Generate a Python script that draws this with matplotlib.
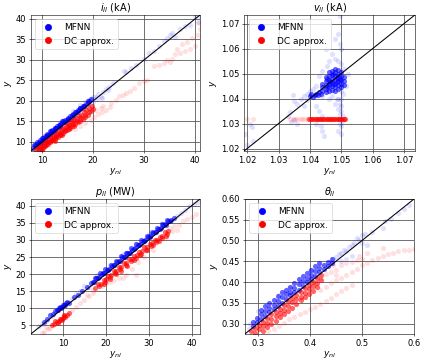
import matplotlib
matplotlib.use("Agg")
import matplotlib.pyplot as plt
from matplotlib.lines import Line2D
from matplotlib.ticker import FormatStrFormatter

# ---------------- i_ll (kA) ----------------
i_mfnn_core_x = [8.2, 8.5, 8.8, 9.0, 9.2, 9.5, 9.8, 10.0, 10.2, 10.5, 10.8, 11.0, 11.3, 11.5, 11.8, 12.0,
                 12.3, 12.5, 12.8, 13.0, 13.3, 13.5, 13.8, 14.0, 14.3, 14.5, 14.8, 15.0, 15.3, 15.5, 15.8,
                 16.0, 16.3, 16.5, 16.8, 17.0, 17.3, 17.5, 17.8, 18.0, 18.3, 18.6, 19.0, 19.3, 9.5, 10.5,
                 11.5, 12.5, 13.5, 14.5, 9.0, 10.0, 11.0, 12.0,
                 8.6, 9.4, 10.2, 11.0, 11.8, 12.6, 13.4, 14.2, 15.0, 15.8, 16.6, 17.4, 18.2, 19.0, 19.6]
i_mfnn_core_y = [8.6, 9.3, 9.0, 9.9, 9.6, 10.4, 10.1, 11.0, 10.6, 11.5, 11.2, 12.0, 11.7, 12.6, 12.2, 13.0,
                 12.7, 13.5, 13.3, 14.0, 13.7, 14.5, 14.3, 15.0, 14.8, 15.4, 15.3, 15.9, 15.7, 16.4, 16.2,
                 16.9, 16.7, 17.3, 17.2, 17.8, 17.7, 18.3, 18.2, 18.8, 18.7, 19.3, 19.5, 19.9, 9.8, 10.8,
                 11.9, 12.9, 13.9, 14.9, 9.4, 10.3, 11.4, 12.4,
                 9.3, 10.1, 11.0, 11.7, 12.6, 13.3, 14.1, 15.0, 15.6, 16.6, 17.2, 18.2, 18.8, 19.9, 20.4]
i_mfnn_x = [19.5, 20.0, 20.3, 20.8, 21.0, 21.5, 22.0, 22.5, 23.0, 23.2, 21.8, 19.0, 18.5, 24.0, 26.0, 26.5,
            27.5, 28.5, 30.0, 31.0, 32.0, 33.0, 34.0, 34.5, 35.0, 35.5, 36.0, 37.0, 38.0, 39.0, 40.0, 40.5,
            41.0, 17.5, 16.0, 20.0]
i_mfnn_y = [20.5, 19.8, 21.0, 20.5, 21.6, 21.0, 22.3, 23.0, 22.6, 23.5, 20.8, 20.3, 19.8, 24.5, 27.4, 27.0,
            28.0, 28.8, 30.3, 31.6, 32.3, 33.3, 34.7, 35.3, 36.0, 36.6, 35.5, 37.5, 38.4, 38.5, 40.6, 39.3,
            40.8, 19.0, 17.5, 20.9]
i_dc_core_x = [8.8, 9.0, 9.3, 9.5, 9.8, 10.0, 10.2, 10.3, 10.5, 10.7, 10.8, 11.0, 11.2, 11.3, 11.5, 11.7,
               11.8, 12.0, 12.2, 12.3, 12.5, 12.7, 12.8, 13.0, 13.2, 13.3, 13.5, 13.7, 13.8, 14.0, 14.2,
               14.3, 14.5, 14.7, 14.8, 15.0, 15.2, 15.3, 15.5, 15.7, 15.8, 16.0, 16.2, 16.3, 16.5, 16.8,
               17.0, 17.2, 17.5, 17.7, 18.0, 18.2, 18.5, 18.7, 19.0, 19.2, 19.5, 19.7, 12.5, 14.0, 11.0, 10.0,
               9.6, 10.4, 11.2, 12.0, 12.8, 13.6, 14.4, 15.2, 16.0, 16.8, 17.6, 18.4, 19.2, 20.0]
i_dc_core_y = [8.0, 8.5, 8.2, 8.9, 8.4, 9.3, 8.6, 9.7, 9.0, 9.9, 9.3, 10.3, 9.5, 10.6, 9.9, 10.9,
               10.2, 11.2, 10.4, 11.5, 10.8, 11.8, 11.1, 12.2, 11.3, 12.5, 11.7, 12.8, 12.0, 13.1, 12.2,
               13.5, 12.6, 13.8, 12.9, 14.1, 13.1, 14.5, 13.5, 14.8, 13.8, 15.1, 14.0, 15.5, 14.4, 15.8,
               14.8, 16.3, 15.2, 16.7, 15.6, 17.2, 16.1, 17.7, 16.6, 18.3, 17.5, 18.8, 10.2, 11.8, 9.7, 8.0,
               8.6, 9.1, 9.9, 10.6, 11.4, 12.0, 12.9, 13.6, 14.3, 15.0, 15.9, 16.5, 17.3, 18.0]
i_dc_x = [16.5, 17.5, 18.5, 19.5, 20.2, 21.0, 21.8, 22.5, 23.3, 22.0, 23.5, 24.5, 25.0, 25.8, 26.5, 27.3,
          28.0, 29.0, 30.0, 20.5, 21.5, 32.0, 33.0, 34.0, 34.5, 35.0, 35.5, 36.0, 37.0, 38.0, 39.0, 40.0,
          36.5, 37.5, 38.5, 39.5, 40.5, 41.0, 40.8, 30.5, 19.0, 18.0]
i_dc_y = [13.2, 14.0, 14.6, 15.3, 16.2, 16.8, 17.4, 17.8, 18.5, 18.8, 19.5, 20.3, 21.2, 21.5, 22.0, 22.5,
          23.2, 24.3, 24.8, 17.8, 18.2, 28.5, 28.8, 29.3, 30.0, 29.5, 30.2, 31.5, 31.8, 32.3, 32.6, 33.4,
          32.8, 34.0, 34.5, 35.3, 36.2, 37.5, 39.0, 25.2, 19.2, 16.5]

# ---------------- v_ll (kA) ----------------
v_mfnn_core_x = [1.0440, 1.0440, 1.0440,
                 1.0450, 1.0450, 1.0450, 1.0450, 1.0450,
                 1.0460, 1.0460, 1.0460, 1.0460, 1.0460, 1.0460,
                 1.0470, 1.0470, 1.0470, 1.0470, 1.0470, 1.0470,
                 1.0480, 1.0480, 1.0480, 1.0480, 1.0480, 1.0480, 1.0480,
                 1.0490, 1.0490, 1.0490, 1.0490, 1.0490, 1.0490,
                 1.0500, 1.0500, 1.0500, 1.0500, 1.0500,
                 1.0510, 1.0510, 1.0510,
                 1.0455, 1.0465, 1.0475, 1.0485, 1.0495, 1.0475, 1.0485, 1.0455,
                 1.0400, 1.0410, 1.0415, 1.0420, 1.0425, 1.0430, 1.0435, 1.0405]
v_mfnn_core_y = [1.0430, 1.0445, 1.0460,
                 1.0425, 1.0440, 1.0455, 1.0470, 1.0485,
                 1.0430, 1.0445, 1.0460, 1.0475, 1.0490, 1.0505,
                 1.0435, 1.0450, 1.0465, 1.0480, 1.0495, 1.0510,
                 1.0430, 1.0445, 1.0460, 1.0475, 1.0490, 1.0505, 1.0520,
                 1.0440, 1.0455, 1.0470, 1.0485, 1.0500, 1.0515,
                 1.0445, 1.0460, 1.0475, 1.0490, 1.0505,
                 1.0455, 1.0470, 1.0485,
                 1.0448, 1.0468, 1.0458, 1.0482, 1.0478, 1.0498, 1.0465, 1.0478,
                 1.0410, 1.0405, 1.0415, 1.0420, 1.0413, 1.0425, 1.0420, 1.0418]
v_mfnn_x = [1.0400, 1.0390, 1.0370, 1.0350, 1.0345, 1.0360, 1.0380, 1.0330, 1.0350, 1.0360, 1.0340,
            1.0420, 1.0430, 1.0440, 1.0435, 1.0440, 1.0445, 1.0420, 1.0480, 1.0490, 1.0495, 1.0490,
            1.0495, 1.0500, 1.0490, 1.0500, 1.0485, 1.0500, 1.0210, 1.0215, 1.0220, 1.0200, 1.0192,
            1.0450, 1.0460, 1.0470, 1.0480, 1.0490, 1.0495, 1.0480, 1.0500, 1.0510, 1.0520, 1.0455,
            1.0430, 1.0440, 1.0420, 1.0410, 1.0500, 1.0515, 1.0390, 1.0460, 1.0470, 1.0440, 1.0380,
            1.0335, 1.0500, 1.0495, 1.0505, 1.0498, 1.0502, 1.0490, 1.0505, 1.0500, 1.0490, 1.0500,
            1.0495]
v_mfnn_y = [1.0430, 1.0395, 1.0400, 1.0390, 1.0415, 1.0380, 1.0410, 1.0330, 1.0315, 1.0300, 1.0305,
            1.0370, 1.0350, 1.0330, 1.0290, 1.0270, 1.0250, 1.0300, 1.0380, 1.0360, 1.0340, 1.0320,
            1.0300, 1.0290, 1.0270, 1.0400, 1.0400, 1.0370, 1.0300, 1.0285, 1.0230, 1.0215, 1.0260,
            1.0600, 1.0550, 1.0580, 1.0640, 1.0660, 1.0730, 1.0560, 1.0540, 1.0520, 1.0500, 1.0530,
            1.0490, 1.0510, 1.0450, 1.0440, 1.0470, 1.0450, 1.0420, 1.0400, 1.0410, 1.0410, 1.0370,
            1.0345, 1.0350, 1.0380, 1.0330, 1.0260, 1.0310, 1.0400, 1.0420, 1.0430, 1.0550, 1.0600,
            1.0620]
v_dc_core_x = [1.0398, 1.0403, 1.0408, 1.0413, 1.0418, 1.0423, 1.0428, 1.0433, 1.0438, 1.0443, 1.0448,
               1.0453, 1.0458, 1.0463, 1.0468, 1.0473, 1.0478, 1.0483, 1.0488, 1.0493, 1.0498, 1.0503,
               1.0508, 1.0513]
v_dc_core_y = [1.0318, 1.0318, 1.0318, 1.0318, 1.0318, 1.0318, 1.0318, 1.0318, 1.0318, 1.0318, 1.0318,
               1.0318, 1.0318, 1.0318, 1.0318, 1.0318, 1.0318, 1.0318, 1.0318, 1.0318, 1.0318, 1.0318,
               1.0318, 1.0318]
v_dc_x = [1.0335, 1.0345, 1.0352, 1.0360, 1.0368, 1.0375, 1.0382, 1.0390, 1.0395, 1.0200, 1.0218]
v_dc_y = [1.0318, 1.0318, 1.0318, 1.0318, 1.0318, 1.0318, 1.0318, 1.0318, 1.0318, 1.0318, 1.0318]

# ---------------- p_ll (MW) ----------------
p_mfnn_core_x = [5.5, 6.3, 7.0, 7.6, 8.2, 8.8, 9.3, 9.8, 10.3, 10.8, 11.3, 9.0, 10.0, 11.0,
                 12.5, 13.5, 14.5, 15.5,
                 16.5, 17.2, 17.8, 18.5, 19.0, 19.6, 20.2, 20.8, 21.4, 22.0, 22.6, 23.2, 23.8, 24.4,
                 25.0, 25.6, 26.2, 26.8, 27.4, 28.0, 28.6, 29.2, 29.8, 30.4, 31.0, 31.6, 32.2, 32.8,
                 33.4, 34.0, 34.6, 35.2, 35.8,
                 17.5, 18.7, 19.9, 21.1, 22.3, 23.5, 24.7, 25.9, 27.1, 28.3, 29.5, 30.7, 31.9, 33.1, 34.3,
                 17.0, 18.2, 19.4, 20.6, 21.8, 23.0, 24.2, 25.4, 26.6, 27.8, 29.0, 30.2, 31.4, 32.6, 33.8,
                 35.0, 8.5, 9.5, 10.5]
p_mfnn_core_y = [6.0, 6.8, 7.9, 8.2, 9.2, 9.5, 10.3, 10.4, 11.0, 11.5, 11.7, 10.0, 10.9, 11.8,
                 13.3, 14.0, 15.2, 16.3,
                 17.4, 17.8, 18.8, 19.2, 20.0, 20.3, 21.2, 21.5, 22.4, 22.7, 23.6, 23.9, 24.9, 25.1,
                 26.1, 26.3, 27.2, 27.5, 28.4, 28.7, 29.6, 29.9, 30.8, 31.1, 32.0, 32.2, 33.1, 33.4,
                 34.3, 34.5, 35.4, 35.8, 36.4,
                 19.0, 20.4, 21.5, 22.8, 23.9, 25.2, 26.3, 27.6, 28.7, 30.0, 31.1, 32.4, 33.5, 34.8, 35.9,
                 17.7, 18.9, 20.2, 21.3, 22.6, 23.7, 25.0, 26.1, 27.4, 28.5, 29.8, 30.9, 32.2, 33.3, 34.6,
                 35.6, 9.6, 10.1, 11.1]
p_mfnn_x = [4.5, 5.0, 6.0, 7.5, 12.0, 13.0, 14.0, 15.0, 16.0, 18.0, 21.0, 24.0, 27.0, 30.0, 33.0, 36.5,
            37.5, 38.5, 39.5, 40.5, 41.5, 20.0, 25.0, 29.0]
p_mfnn_y = [4.8, 5.5, 6.2, 7.8, 12.8, 14.2, 15.0, 16.5, 16.3, 19.8, 22.8, 25.8, 28.9, 31.8, 34.8, 37.0,
            38.0, 38.8, 39.8, 40.5, 41.0, 20.0, 25.2, 29.1]
p_dc_core_x = [7.5, 8.0, 8.5, 9.0, 9.5, 10.0, 10.5, 11.0, 8.8, 9.8, 10.3, 11.3,
               17.5, 18.2, 18.8, 19.5, 20.0, 20.6, 21.2, 21.8, 22.4, 23.0, 23.6, 24.2, 24.8, 25.4,
               26.0, 26.6, 27.2, 27.8, 28.4, 29.0, 29.6, 30.2, 30.8, 31.4, 32.0, 32.6, 33.2, 33.8,
               34.4, 23.5, 25.0, 26.5, 28.0,
               19.5, 21.0, 22.3, 29.5, 31.0, 32.5, 34.0,
               18.5, 19.8, 21.0, 22.2, 23.4, 24.6, 25.8, 27.0, 28.2, 29.4, 30.6, 31.8, 33.0, 34.2,
               9.2, 10.2, 8.2]
p_dc_core_y = [5.0, 5.5, 6.0, 6.3, 6.8, 7.2, 7.5, 8.0, 5.6, 6.5, 8.0, 8.5,
               15.8, 17.0, 17.2, 18.3, 18.5, 19.5, 19.8, 20.8, 21.0, 22.0, 22.2, 23.2, 23.4, 24.3,
               24.5, 25.4, 25.6, 26.6, 26.8, 27.8, 28.0, 28.9, 29.0, 29.9, 30.0, 31.0, 31.2, 32.2,
               32.5, 21.0, 22.5, 24.0, 25.5,
               17.2, 18.6, 20.0, 27.0, 28.4, 29.8, 31.3,
               16.6, 17.8, 19.2, 20.4, 21.6, 22.7, 23.8, 24.8, 26.0, 27.2, 28.3, 29.4, 30.5, 31.7,
               7.0, 7.8, 6.2]
p_dc_x = [5.0, 5.5, 6.5, 7.0, 6.0, 12.0, 13.0, 14.0, 15.0, 16.0, 17.0, 15.5, 17.0, 19.0, 20.0, 21.0,
          22.0, 24.0, 24.7, 27.0, 23.0, 26.0, 27.5, 29.0, 31.0, 35.0, 36.0, 37.0, 38.0, 39.0, 40.0,
          41.0, 35.5, 36.5, 34.0]
p_dc_y = [2.8, 3.2, 4.0, 4.3, 4.6, 9.5, 10.5, 11.5, 12.5, 13.5, 14.5, 14.0, 15.5, 16.5, 17.3, 17.8,
          18.3, 19.0, 19.8, 19.8, 19.0, 21.5, 23.5, 25.0, 27.0, 33.5, 34.0, 34.5, 35.5, 36.0, 36.8,
          37.5, 32.5, 33.0, 30.5]

# ---------------- theta_ll ----------------
t_mfnn_core_x = [0.290, 0.298, 0.306, 0.314, 0.322, 0.330, 0.338, 0.346, 0.354, 0.362, 0.370, 0.378,
                 0.386, 0.394, 0.402, 0.410, 0.418, 0.426, 0.434, 0.442,
                 0.290, 0.298, 0.306, 0.314, 0.322, 0.330, 0.338, 0.346, 0.354, 0.362, 0.370, 0.378,
                 0.386, 0.394, 0.402, 0.410, 0.418, 0.426, 0.434, 0.442,
                 0.306, 0.314, 0.322, 0.330, 0.338, 0.346, 0.354, 0.362, 0.370, 0.378, 0.386, 0.394,
                 0.402, 0.410, 0.418]
t_mfnn_core_y = [0.295, 0.304, 0.311, 0.318, 0.327, 0.336, 0.343, 0.350, 0.359, 0.368, 0.375, 0.382,
                 0.391, 0.400, 0.407, 0.414, 0.423, 0.432, 0.439, 0.446,
                 0.303, 0.313, 0.322, 0.331, 0.338, 0.345, 0.354, 0.363, 0.370, 0.377, 0.386, 0.395,
                 0.402, 0.409, 0.418, 0.427, 0.433, 0.440, 0.449, 0.456,
                 0.333, 0.343, 0.350, 0.357, 0.366, 0.375, 0.382, 0.389, 0.398, 0.407, 0.414, 0.421,
                 0.430, 0.439, 0.446]
t_mfnn_x = [0.282, 0.285, 0.300, 0.320, 0.340, 0.360, 0.380, 0.400, 0.420, 0.440, 0.445, 0.450, 0.455,
            0.460, 0.465, 0.470, 0.475, 0.480, 0.485, 0.490, 0.495, 0.500, 0.505, 0.470, 0.480, 0.460,
            0.510, 0.540, 0.545, 0.555, 0.570, 0.580, 0.590, 0.520, 0.500]
t_mfnn_y = [0.288, 0.300, 0.330, 0.345, 0.368, 0.385, 0.400, 0.428, 0.440, 0.448, 0.455, 0.460, 0.468,
            0.470, 0.478, 0.475, 0.485, 0.490, 0.495, 0.505, 0.500, 0.512, 0.515, 0.455, 0.462, 0.450,
            0.490, 0.530, 0.548, 0.552, 0.565, 0.575, 0.585, 0.520, 0.495]
t_dc_core_x = [0.286, 0.294, 0.302, 0.310, 0.318, 0.326, 0.334, 0.342, 0.350, 0.358, 0.366, 0.374,
               0.382, 0.390, 0.398, 0.406, 0.414, 0.422,
               0.294, 0.302, 0.310, 0.318, 0.326, 0.334, 0.342, 0.350, 0.358, 0.366, 0.374, 0.382,
               0.390, 0.398, 0.406, 0.414, 0.422,
               0.310, 0.318, 0.326, 0.334, 0.342, 0.350, 0.358, 0.366, 0.374, 0.382, 0.390, 0.398,
               0.406, 0.414]
t_dc_core_y = [0.281, 0.290, 0.297, 0.304, 0.313, 0.322, 0.329, 0.336, 0.345, 0.354, 0.361, 0.368,
               0.377, 0.386, 0.393, 0.400, 0.409, 0.418,
               0.278, 0.287, 0.294, 0.301, 0.310, 0.319, 0.326, 0.333, 0.342, 0.351, 0.358, 0.365,
               0.374, 0.383, 0.390, 0.397, 0.406,
               0.283, 0.292, 0.299, 0.306, 0.315, 0.324, 0.331, 0.338, 0.347, 0.356, 0.363, 0.370,
               0.379, 0.387]
t_dc_x = [0.320, 0.330, 0.340, 0.350, 0.360, 0.370, 0.380, 0.390, 0.400, 0.410, 0.420, 0.430, 0.440,
          0.450, 0.460, 0.470, 0.480,
          0.420, 0.430, 0.440, 0.450, 0.460, 0.470, 0.480, 0.490, 0.500, 0.510, 0.520, 0.530, 0.540,
          0.550, 0.560, 0.570, 0.580, 0.590, 0.600,
          0.430, 0.440, 0.450, 0.460, 0.470, 0.480, 0.490, 0.500, 0.495, 0.510, 0.540, 0.450, 0.445,
          0.420, 0.410]
t_dc_y = [0.283, 0.288, 0.295, 0.302, 0.310, 0.316, 0.322, 0.328, 0.334, 0.341, 0.348, 0.355, 0.362,
          0.370, 0.378, 0.385, 0.393,
          0.380, 0.388, 0.398, 0.405, 0.410, 0.418, 0.425, 0.432, 0.440, 0.446, 0.452, 0.458, 0.462,
          0.468, 0.470, 0.474, 0.476, 0.478, 0.480,
          0.420, 0.425, 0.430, 0.440, 0.445, 0.448, 0.452, 0.455, 0.462, 0.470, 0.482, 0.418, 0.440,
          0.410, 0.400]

panels = [
    (r"$i_{ll}$ (kA)", (7.8, 41.0), [10, 20, 30, 40], [10, 15, 20, 25, 30, 35, 40], None,
     i_mfnn_core_x, i_mfnn_core_y, i_mfnn_x, i_mfnn_y, i_dc_core_x, i_dc_core_y, i_dc_x, i_dc_y),
    (r"$v_{ll}$ (kA)", (1.019, 1.0735), [1.02, 1.03, 1.04, 1.05, 1.06, 1.07],
     [1.02, 1.03, 1.04, 1.05, 1.06, 1.07], "%.2f",
     v_mfnn_core_x, v_mfnn_core_y, v_mfnn_x, v_mfnn_y, v_dc_core_x, v_dc_core_y, v_dc_x, v_dc_y),
    (r"$p_{ll}$ (MW)", (2.5, 42.0), [10, 20, 30, 40], [5, 10, 15, 20, 25, 30, 35, 40], None,
     p_mfnn_core_x, p_mfnn_core_y, p_mfnn_x, p_mfnn_y, p_dc_core_x, p_dc_core_y, p_dc_x, p_dc_y),
    (r"$\theta_{ll}$", (0.275, 0.6), [0.3, 0.4, 0.5, 0.6],
     [0.30, 0.35, 0.40, 0.45, 0.50, 0.55, 0.60], "%.2f",
     t_mfnn_core_x, t_mfnn_core_y, t_mfnn_x, t_mfnn_y, t_dc_core_x, t_dc_core_y, t_dc_x, t_dc_y),
]

positions = [[0.073, 0.584, 0.400, 0.375], [0.577, 0.584, 0.404, 0.375],
             [0.073, 0.080, 0.400, 0.372], [0.579, 0.080, 0.400, 0.372]]

fig = plt.figure(figsize=(8.46, 7.26), dpi=50)
for k, (pos, panel) in enumerate(zip(positions, panels)):
    title, lim, xt, yt, fmt, bcx, bcy, bx, by, rcx, rcy, rx, ry = panel
    ax = fig.add_axes(pos)
    ax.scatter(bx, by, s=55, color='b', alpha=0.12, linewidths=0)
    ax.scatter(bcx, bcy, s=55, color='b', alpha=0.6, linewidths=0)
    ax.scatter(rx, ry, s=55, color='r', alpha=0.12, linewidths=0)
    ax.scatter(rcx, rcy, s=55, color='r', alpha=0.6, linewidths=0)
    ax.plot(lim, lim, color='k', lw=1.5)
    ax.set_xlim(lim)
    ax.set_ylim(lim)
    ax.set_xticks(xt)
    ax.set_yticks(yt)
    if fmt:
        ax.yaxis.set_major_formatter(FormatStrFormatter(fmt))
        if k == 1:
            ax.xaxis.set_major_formatter(FormatStrFormatter(fmt))
        else:
            ax.xaxis.set_major_formatter(FormatStrFormatter("%.1f"))
    ax.grid(True, color='0.35', lw=1.2)
    ax.set_axisbelow(True)
    ax.set_title(title, fontsize=14)
    ax.set_xlabel(r"$y_{nl}$", fontsize=13, labelpad=2)
    ax.set_ylabel(r"$y$", fontsize=13, labelpad=2)
    ax.tick_params(labelsize=12)
    handles = [Line2D([], [], ls='none', marker='o', color='b', markersize=9),
               Line2D([], [], ls='none', marker='o', color='r', markersize=9)]
    ax.legend(handles, ['MFNN', 'DC approx.'], loc='upper left', fontsize=13)

fig.savefig("out.png", dpi=50)
